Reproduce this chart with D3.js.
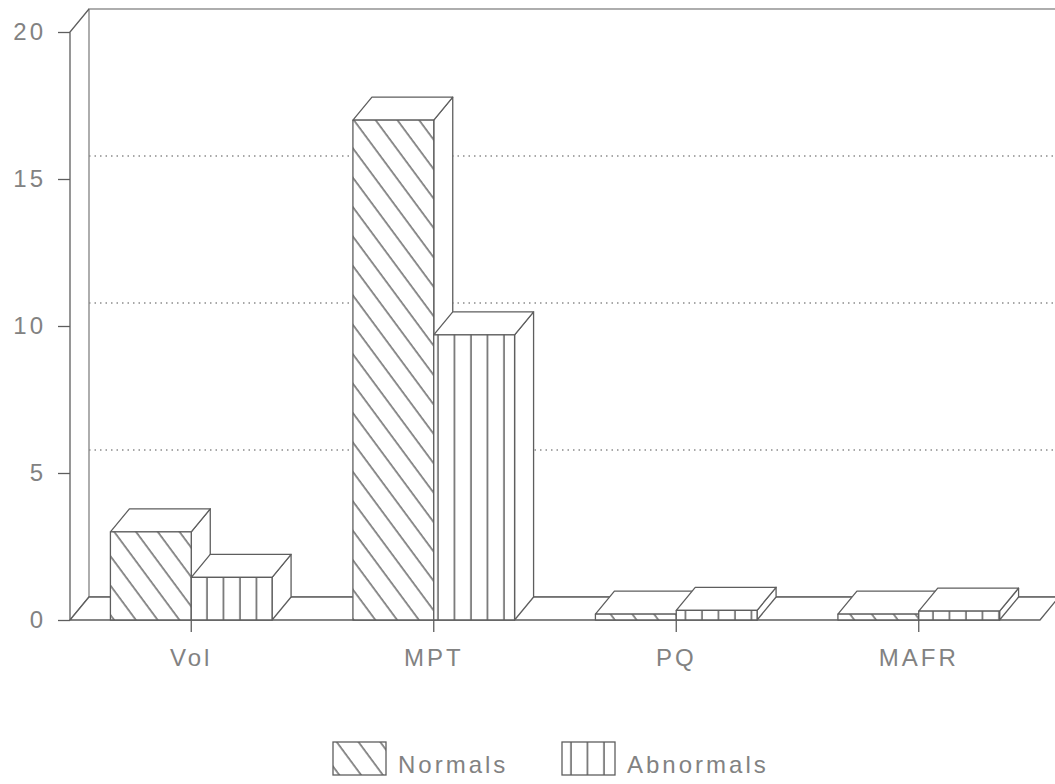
<!DOCTYPE html>
<html>
<head>
<meta charset="utf-8">
<script src="https://cdn.jsdelivr.net/npm/d3@7/dist/d3.min.js"></script>
<style>
  html, body { margin: 0; padding: 0; background: #fff; }
  svg { display: block; }
  text { font-family: "Liberation Sans", Arial, sans-serif; fill: #828282; }
</style>
</head>
<body>
<svg id="chart" width="1055" height="784"></svg>
<script>
// Chart data
const categories = ["Vol", "MPT", "PQ", "MAFR"];
const seriesNames = ["Normals", "Abnormals"];
const normals = [3.0, 17.0, 0.2, 0.2];
const abnormals = [1.45, 9.7, 0.33, 0.3];
const yTicks = [0, 5, 10, 15, 20];

const svg = d3.select("#chart");
const depth = { dx: 19, dy: -23 };   // 3D offset of the back plane
const ink = "#5e5e5e";
const light = "#8c8c8c";
const textFill = "#828282";

const x0 = d3.scaleBand().domain(categories).range([70, 1040]).padding(0);
const x1 = d3.scaleBand().domain(seriesNames).range([0, x0.bandwidth()]).paddingInner(0).paddingOuter(0.5);
const y = d3.scaleLinear().domain([0, 20]).range([620, 32]);

// Hatch patterns
const defs = svg.append("defs");
const dStep = 17.5;
const diag = defs.append("pattern")
  .attr("id", "hatch-diag")
  .attr("patternUnits", "userSpaceOnUse")
  .attr("width", dStep).attr("height", dStep)
  .attr("patternTransform", "rotate(-36.5)");
diag.append("rect").attr("width", dStep).attr("height", dStep).attr("fill", "#fff");
diag.append("line").attr("x1", 3).attr("x2", 3).attr("y1", 0).attr("y2", dStep)
  .attr("stroke", ink).attr("stroke-width", 1.4);

const vStep = 16.5;
const vert = defs.append("pattern")
  .attr("id", "hatch-vert")
  .attr("patternUnits", "userSpaceOnUse")
  .attr("width", vStep).attr("height", 10)
  .attr("x", 4);
vert.append("rect").attr("width", vStep).attr("height", 10).attr("fill", "#fff");
vert.append("line").attr("x1", 5).attr("x2", 5).attr("y1", 0).attr("y2", 10)
  .attr("stroke", ink).attr("stroke-width", 1.5);

const fills = { Normals: "url(#hatch-diag)", Abnormals: "url(#hatch-vert)" };

const xL = x0.range()[0], xR = x0.range()[1];
const yTop = y(20), yBot = y(0);
const bx = v => v + depth.dx, by = v => v + depth.dy;

// Back wall
const wall = svg.append("g").attr("fill", "none");
wall.append("rect")
  .attr("x", bx(xL)).attr("y", by(yTop))
  .attr("width", xR - xL).attr("height", yBot - yTop)
  .attr("fill", "#fff").attr("stroke", light).attr("stroke-width", 1.4);

// Dotted gridlines on the back wall
wall.selectAll("line.grid")
  .data(yTicks.filter(t => t > 0 && t < 20))
  .join("line")
  .attr("class", "grid")
  .attr("x1", bx(xL)).attr("x2", bx(xR))
  .attr("y1", d => by(y(d))).attr("y2", d => by(y(d)))
  .attr("stroke", light).attr("stroke-width", 1.3)
  .attr("stroke-dasharray", "1.5,4");

// Left side wall
const side = svg.append("g").attr("stroke", ink).attr("stroke-width", 1.3).attr("fill", "none");
side.append("path")
  .attr("d", `M${xL},${yBot}L${xL},${yTop}L${bx(xL)},${by(yTop)}`);
side.append("line")
  .attr("x1", xL).attr("y1", yBot).attr("x2", bx(xL)).attr("y2", by(yBot));

// Floor
svg.append("path")
  .attr("d", `M${xL},${yBot}L${xR},${yBot}L${bx(xR)},${by(yBot)}L${bx(xL)},${by(yBot)}Z`)
  .attr("fill", "#fff").attr("stroke", ink).attr("stroke-width", 1.3);

// Y axis ticks and labels
const yAxis = d3.axisLeft(y).tickValues(yTicks).tickSize(12).tickPadding(12);
const gy = svg.append("g").attr("transform", `translate(${xL},0)`).call(yAxis);
gy.select(".domain").remove();
gy.selectAll(".tick line").attr("stroke", ink).attr("stroke-width", 1.3);
gy.selectAll(".tick text")
  .attr("font-size", 24).attr("letter-spacing", 3)
  .attr("font-family", "'Liberation Sans', Arial, sans-serif")
  .attr("fill", textFill);

// Bars as 3D boxes
const rows = categories.map((c, i) => ({ cat: c, values: [
  { key: "Normals", value: normals[i] },
  { key: "Abnormals", value: abnormals[i] }
]}));

const bars = svg.append("g");
rows.forEach(r => {
  r.values.forEach(d => {
    const xa = x0(r.cat) + x1(d.key);
    const xb = xa + x1.bandwidth();
    const yt = y(d.value);
    const g = bars.append("g").attr("stroke", ink).attr("stroke-width", 1.3).attr("stroke-linejoin", "round");
    // right side face
    g.append("path")
      .attr("d", `M${xb},${yBot}L${xb},${yt}L${bx(xb)},${by(yt)}L${bx(xb)},${by(yBot)}Z`)
      .attr("fill", "#fff");
    // top face
    g.append("path")
      .attr("d", `M${xa},${yt}L${bx(xa)},${by(yt)}L${bx(xb)},${by(yt)}L${xb},${yt}Z`)
      .attr("fill", "#fff");
    // front face
    g.append("rect")
      .attr("x", xa).attr("y", yt)
      .attr("width", xb - xa).attr("height", yBot - yt)
      .attr("fill", fills[d.key]);
  });
});

// X axis ticks and labels
const xAxis = d3.axisBottom(x0).tickSize(12).tickPadding(17);
const gx = svg.append("g").attr("transform", `translate(0,${yBot})`).call(xAxis);
gx.select(".domain").remove();
gx.selectAll(".tick line").attr("stroke", ink).attr("stroke-width", 1.3);
gx.selectAll(".tick text")
  .attr("font-size", 24).attr("letter-spacing", 3)
  .attr("font-family", "'Liberation Sans', Arial, sans-serif")
  .attr("fill", textFill);

// Legend
const legend = svg.append("g").attr("transform", "translate(333,742)");
const legendX = d3.scaleOrdinal().domain(seriesNames).range([0, 229]);
seriesNames.forEach(k => {
  const lg = legend.append("g").attr("transform", `translate(${legendX(k)},0)`);
  lg.append("rect").attr("width", 53).attr("height", 33)
    .attr("fill", fills[k]).attr("stroke", ink).attr("stroke-width", 1.3);
  lg.append("text").attr("x", 65).attr("y", 31)
    .attr("font-size", 24).attr("letter-spacing", 3)
    .text(k);
});
</script>
</body>
</html>
